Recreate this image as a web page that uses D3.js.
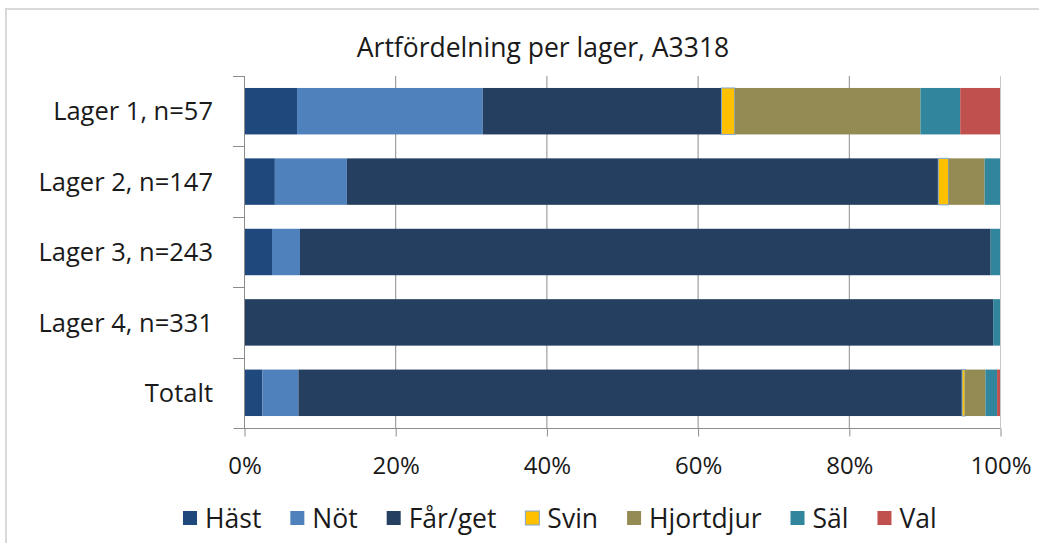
<!DOCTYPE html>
<html>
<head>
<meta charset="utf-8">
<script src="https://cdn.jsdelivr.net/npm/d3@7"></script>
<style>
  html, body { margin: 0; padding: 0; background: #fff; }
  svg { display: block; font-family: "Open Sans", sans-serif; }
</style>
</head>
<body>
<svg id="chart" width="1039" height="543"></svg>
<script>
// ---- Data (counts per layer; n given in labels) ----
const categories = ["Lager 1, n=57", "Lager 2, n=147", "Lager 3, n=243", "Lager 4, n=331", "Totalt"];
const seriesNames = ["Häst", "Nöt", "Får/get", "Svin", "Hjortdjur", "Säl", "Val"];
const hast      = [4, 6, 9, 0, 19];
const not       = [14, 14, 9, 0, 37];
const farget    = [18, 115, 222, 328, 683];
const svin      = [1, 2, 0, 0, 3];
const hjortdjur = [14, 7, 0, 0, 21];
const sal       = [3, 3, 3, 3, 12];
const val       = [3, 0, 0, 0, 3];
const xTicks = [0, 0.2, 0.4, 0.6, 0.8, 1.0];
const title = "Artfördelning per lager, A3318";
const colors = ["#1F497D", "#4F81BD", "#243F60", "#FFC000", "#948A54", "#31859C", "#C0504D"];

const seriesValues = [hast, not, farget, svin, hjortdjur, sal, val];
const rows = categories.map((c, i) => {
  const r = { cat: c };
  seriesNames.forEach((s, j) => r[s] = seriesValues[j][i]);
  return r;
});

const svg = d3.select("#chart");

// chart frame
svg.append("rect").attr("x", 6).attr("y", 9).attr("width", 1100).attr("height", 600)
  .attr("fill", "#fff").attr("stroke", "#d9d9d9").attr("stroke-width", 2);

const plot = { left: 244, right: 1000, top: 76, bottom: 428 };

const x = d3.scaleLinear().domain([0, 1]).range([plot.left, plot.right]);
const y = d3.scaleBand().domain(categories).range([plot.top, plot.bottom])
  .paddingInner(0.34).paddingOuter(0.17);

const stack = d3.stack().keys(seriesNames).offset(d3.stackOffsetExpand);
const stacked = stack(rows);

// gridlines
svg.append("g").selectAll("line").data(xTicks.slice(1)).join("line")
  .attr("x1", d => x(d) + 0.5).attr("x2", d => x(d) + 0.5)
  .attr("y1", plot.top).attr("y2", plot.bottom)
  .attr("stroke", (d) => d === 1 ? "#c8c8c8" : "#8c8c8c").attr("stroke-width", 1);

// bars
const layer = svg.append("g").selectAll("g").data(stacked).join("g")
  .attr("fill", (d, i) => colors[i]);
layer.selectAll("rect").data(d => d.map(v => ({ v, key: d.key }))).join("rect")
  .attr("x", d => x(d.v[0]))
  .attr("width", d => Math.max(0, x(d.v[1]) - x(d.v[0])))
  .attr("y", d => y(d.v.data.cat))
  .attr("height", y.bandwidth())
  .attr("stroke", d => d.key === "Svin" && d.v[1] - d.v[0] > 0 ? "#7fa6d4" : "none")
  .attr("stroke-width", 1);

// x axis
const xAxis = d3.axisBottom(x).tickValues(xTicks).tickFormat(d3.format(".0%")).tickSize(8).tickSizeOuter(0);
const gx = svg.append("g").attr("transform", `translate(0.5,${plot.bottom + 0.5})`).call(xAxis);
gx.select(".domain").remove();
gx.append("line").attr("x1", plot.left - 11).attr("x2", plot.right).attr("y1", 0).attr("y2", 0)
  .attr("stroke", "#8c8c8c");
gx.selectAll(".tick line").attr("stroke", "#8c8c8c");
gx.selectAll(".tick text").attr("font-family", "Open Sans, sans-serif").attr("font-size", 24)
  .attr("fill", "#1a1a1a").attr("dy", "1.45em");

// y axis (category boundaries ticks)
const gy = svg.append("g");
gy.append("line").attr("x1", plot.left + 0.5).attr("x2", plot.left + 0.5)
  .attr("y1", plot.top).attr("y2", plot.bottom).attr("stroke", "#8c8c8c");
const bounds = d3.range(categories.length).map(i => plot.top + i * y.step());
gy.selectAll("line.tk").data(bounds).join("line").attr("class", "tk")
  .attr("x1", plot.left - 11).attr("x2", plot.left)
  .attr("y1", d => Math.round(d) + 0.5).attr("y2", d => Math.round(d) + 0.5)
  .attr("stroke", "#8c8c8c");
gy.selectAll("text").data(categories).join("text")
  .attr("x", 213).attr("y", d => y(d) + y.bandwidth() / 2)
  .attr("dy", "0.36em").attr("text-anchor", "end")
  .attr("font-size", 25.5).attr("fill", "#1a1a1a").text(d => d);

// title
svg.append("text").attr("x", 543).attr("y", 57).attr("text-anchor", "middle")
  .attr("font-size", 26.5).attr("fill", "#1a1a1a").text(title);

// legend
const lg = svg.append("g").attr("transform", "translate(183,518)");
let cx = 0;
seriesNames.forEach((s, i) => {
  const g = lg.append("g").attr("transform", `translate(${cx},0)`);
  g.append("rect").attr("x", 0).attr("y", -7).attr("width", 14).attr("height", 14)
    .attr("fill", colors[i]).attr("stroke", s === "Svin" ? "#7fa6d4" : "none");
  const t = g.append("text").attr("x", 22).attr("y", 0).attr("dy", "0.36em")
    .attr("font-size", 26.5).attr("fill", "#1a1a1a").text(s);
  const w = t.node().getComputedTextLength();
  cx += 22 + w + 29;
});
</script>
</body>
</html>
